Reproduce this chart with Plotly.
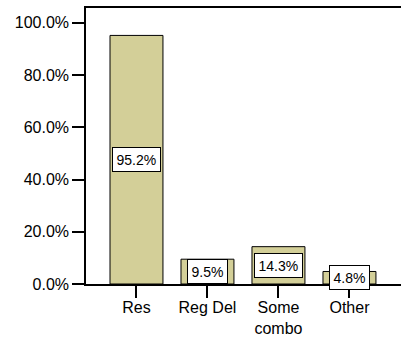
import plotly.graph_objects as go

categories = ["Res", "Reg Del", "Some<br>combo", "Other"]
values = [0.952, 0.095, 0.143, 0.048]
tick_vals = [0, 0.2, 0.4, 0.6, 0.8, 1.0]

bar_color = "#D3CF98"

fig = go.Figure()
fig.add_trace(go.Bar(
    x=list(range(len(categories))),
    y=values,
    width=0.746,
    marker=dict(color=bar_color, line=dict(color="black", width=1)),
    hoverinfo="skip",
))

for i, v in enumerate(values):
    fig.add_annotation(
        x=i, y=v / 2, xref="x", yref="y",
        text=f"{v*100:.1f}%",
        showarrow=False,
        bgcolor="white", bordercolor="black", borderwidth=1, borderpad=3.5,
        font=dict(family="Liberation Sans Narrow, Arial Narrow, Liberation Sans, Arial", size=14, color="black"),
    )

fig.update_layout(
    width=401, height=351,
    margin=dict(l=86, r=0, t=8, b=67),
    paper_bgcolor="white", plot_bgcolor="white",
    showlegend=False,
    font=dict(family="Liberation Sans, Arial", size=16, color="black"),
    xaxis=dict(
        range=[-0.711, 3.726],
        tickmode="array",
        tickvals=list(range(len(categories))),
        ticktext=categories,
        showline=True, linecolor="black", linewidth=1.5, mirror=True,
        ticks="outside", ticklen=12, tickwidth=2, tickcolor="black",
        ticklabelstandoff=-4,
        showgrid=False, zeroline=False, fixedrange=True,
    ),
    yaxis=dict(
        range=[0, 1.057],
        tickmode="array",
        tickvals=tick_vals,
        tickformat=".1%",
        showline=True, linecolor="black", linewidth=1.5,
        ticks="outside", ticklen=12, tickwidth=2, tickcolor="black",
        showgrid=False, zeroline=False, fixedrange=True,
    ),
)

fig.write_html("out.html")
